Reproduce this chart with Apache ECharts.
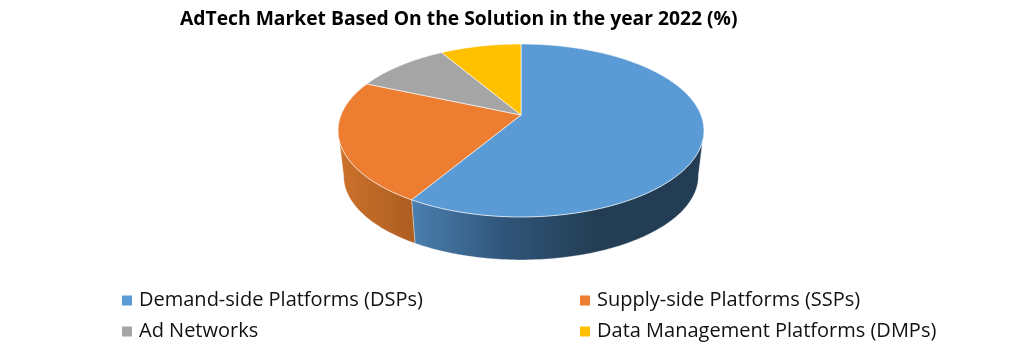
<!DOCTYPE html>
<html>
<head>
<meta charset="utf-8">
<style>
html,body{margin:0;padding:0;background:#fff;}
#main{width:1023px;height:355px;}
</style>
<script src="https://cdn.jsdelivr.net/npm/echarts@6/dist/echarts.min.js"></script>
</head>
<body>
<div id="main"></div>
<script>
var chartTitle = 'AdTech Market Based On the Solution in the year 2022 (%)';
var categories = ['Demand-side Platforms (DSPs)','Supply-side Platforms (SSPs)','Ad Networks','Data Management Platforms (DMPs)'];
var shares = [58.6,22.9,10.0,8.5];
var topColors = ['#5B9BD5','#ED7D31','#A5A5A5','#FFC000'];

// tilted disc: k is the perspective, a/b the scale of the circle once projected
var persp = 0.179;
var topFace = {cx:521,cy:115,a:83.7,b:180};
var bottomFace = {cx:521,cy:161,a:81.2,b:174.5};
var wallFrom = 100, wallTo = 260;

// side wall gradients, blue and orange only are ever visible
var wallFills = {
	0:{x:412,x2:596,stops:[[0,'#4a7fae'],[0.5,'#30557a'],[1,'#233e54']]},
	1:{x:340,x2:412,stops:[[0,'#cc722c'],[1,'#ae5e21']]}
};

function project(face,deg){
	var t = deg*Math.PI/180;
	var x = Math.sin(t), y = -Math.cos(t);
	var d = 1-persp*y;
	return [face.cx+face.b*x/d, face.cy+face.a*y/d];
}
function arc(face,from,to){
	var pts = [];
	var n = Math.max(2,Math.ceil(Math.abs(to-from)));
	for(var i=0;i<=n;i++){
		pts.push(project(face,from+(to-from)*i/n));
	}
	return pts;
}
function renderSlice(index){
	return function(params,api){
		var start = api.value(0)*3.6, end = api.value(1)*3.6;
		var children = [];
		var from = Math.max(start,wallFrom), to = Math.min(end,wallTo);
		if(to>from && wallFills[index]){
			var w = wallFills[index];
			children.push({
				type:'polygon',
				shape:{points:arc(topFace,from,to).concat(arc(bottomFace,to,from))},
				style:{
					fill:{type:'linear',x:w.x,y:0,x2:w.x2,y2:0,global:true,colorStops:w.stops.map(function(s){
						return {offset:s[0],color:s[1]};
					})},
					stroke:'rgba(255,255,255,0.55)',lineWidth:0.6
				}
			});
		}
		children.push({
			type:'polygon',
			shape:{points:[[topFace.cx,topFace.cy]].concat(arc(topFace,start,end))},
			style:{fill:topColors[index],stroke:'rgba(255,255,255,0.75)',lineWidth:0.8}
		});
		return {type:'group',children:children};
	};
}

var series = [];
var running = 0;
for(var i=0;i<categories.length;i++){
	series.push({
		name:categories[i],
		type:'custom',
		coordinateSystem:'none',
		silent:true,
		itemStyle:{color:topColors[i]},
		renderItem:renderSlice(i),
		data:[[running,running+shares[i]]]
	});
	running += shares[i];
}

function legendAt(left,names){
	return {
		left:left,top:289,orient:'vertical',padding:0,
		itemWidth:10,itemHeight:10,itemGap:8,icon:'rect',
		selectedMode:false,
		textStyle:{fontFamily:'Open Sans',fontSize:20,color:'#111',padding:[0,0,0,2],lineHeight:23},
		data:names
	};
}

var myChart = echarts.init(document.getElementById('main'),null,{renderer:'canvas'});
myChart.setOption({
	animation:false,
	backgroundColor:'#fff',
	title:{
		text:chartTitle,left:180,top:10,padding:0,
		textStyle:{fontFamily:'Open Sans',fontWeight:'bold',fontSize:19.3,color:'#000'}
	},
	legend:[
		legendAt(122,[categories[0],categories[2]]),
		legendAt(580,[categories[1],categories[3]])
	],
	series:series
});
</script>
</body>
</html>
